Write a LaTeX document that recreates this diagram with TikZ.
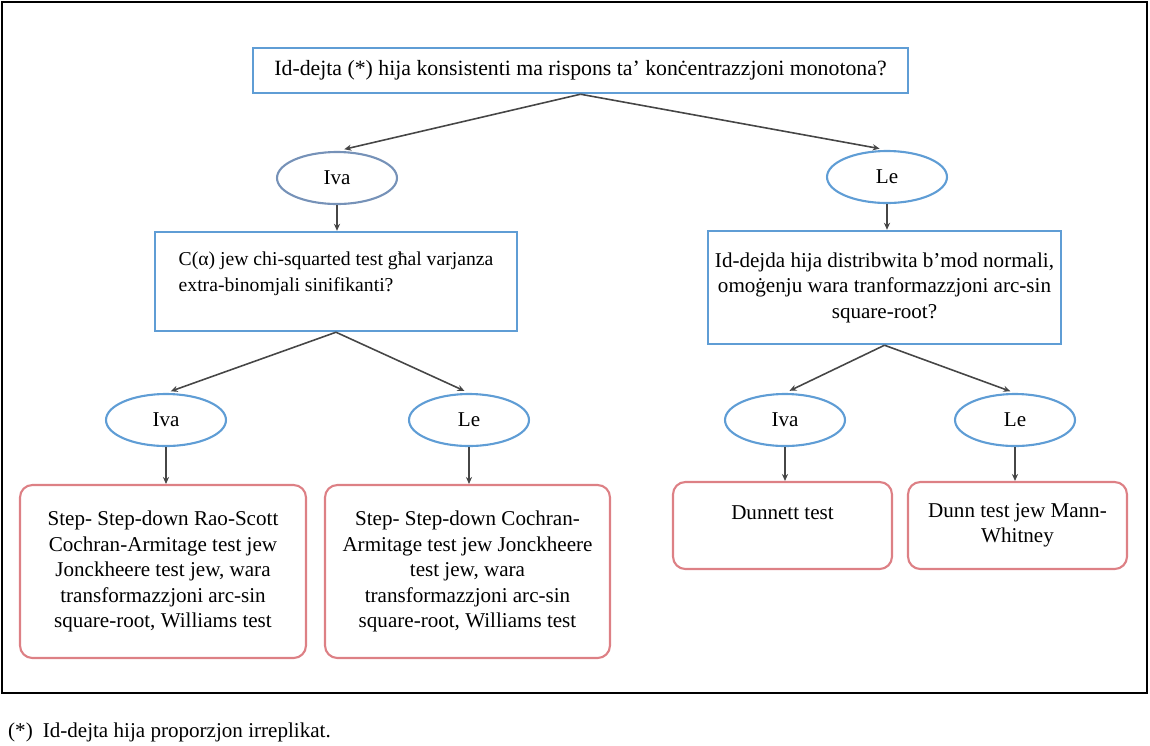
\documentclass[tikz,border=0pt]{standalone}
\usepackage{fontspec}
\setmainfont{Liberation Serif}
\usepackage{xcolor}
\usetikzlibrary{arrows.meta,shapes.geometric}

\definecolor{boxblue}{RGB}{95,157,213}
\definecolor{ovalgrey}{RGB}{118,146,184}
\definecolor{boxred}{RGB}{221,128,133}
\definecolor{arrgrey}{RGB}{70,70,70}

\begin{document}
\begin{tikzpicture}[
        x=0.02cm,
        y=-0.02cm,
        font=\fontsize{12pt}{14.5pt}\selectfont,
        qbox/.style={draw=boxblue, line width=1.4pt, inner sep=0pt, align=center},
        answer/.style={ellipse, draw=boxblue, line width=1.2pt, minimum width=2.4cm, minimum height=1.04cm, inner sep=0pt},
        testbox/.style={draw=boxred, line width=1.2pt, rounded corners=7pt, inner sep=0pt, align=center},
        arr/.style={-{Stealth[length=4pt,width=3.5pt]}, line width=0.9pt, arrgrey}
    ]
        \useasboundingbox (0,0) rectangle (1150,745);
        \draw[line width=1.3pt] (2,2) rectangle (1147,693);

        % questions
        \node[qbox, minimum width=13.1cm, minimum height=0.9cm, font=\fontsize{12.4pt}{14.5pt}\selectfont] (q0) at (580.5,70.5)
            {Id-dejta (*) hija konsistenti ma rispons ta’ konċentrazzjoni monotona?};
        \node[qbox, minimum width=7.24cm, align=left, font=\fontsize{11.2pt}{14.5pt}\selectfont,
            text height=1.18cm, text depth=0.8cm] (q1) at (336,281.5)
            {C(α) jew chi-squarted test għal varjanza\\extra-binomjali sinifikanti?};
        \node[qbox, minimum width=7.06cm, minimum height=2.26cm] (q2) at (884.5,287.5)
            {Id-dejda hija distribwita b’mod normali,\\omoġenju wara tranformazzjoni arc-sin\\square-root?};

        % answers
        \node[answer, draw=ovalgrey] (yes0) at (337,178) {Iva};
        \node[answer] (no0) at (887,177) {Le};
        \node[answer] (yes1) at (166,420) {Iva};
        \node[answer] (no1) at (469,420) {Le};
        \node[answer] (yes2) at (785,420) {Iva};
        \node[answer] (no2) at (1015,420) {Le};

        % tests
        \node[testbox, minimum width=5.72cm, minimum height=3.46cm] (t1) at (163,571.5)
            {Step- Step-down Rao-Scott\\Cochran-Armitage test jew\\Jonckheere test jew, wara\\transformazzjoni arc-sin\\square-root, Williams test};
        \node[testbox, minimum width=5.7cm, minimum height=3.46cm] (t2) at (467.5,571.5)
            {Step- Step-down Cochran-\\Armitage test jew Jonckheere\\test jew, wara\\transformazzjoni arc-sin\\square-root, Williams test};
        \node[testbox, minimum width=4.38cm, text height=0.74cm, text depth=1.0cm] (t3) at (782.5,525.5)
            {Dunnett test};
        \node[testbox, minimum width=4.38cm, minimum height=1.74cm] (t4) at (1017.5,525.5)
            {Dunn test jew Mann-\\Whitney};

        \draw[arr, shorten >=0.15cm] (q0.south) -- (yes0.north);
        \draw[arr, shorten >=0.15cm] (q0.south) -- (no0.north);
        \draw[arr] (yes0.south) -- (yes0.south |- q1.north);
        \draw[arr] (no0.south) -- (no0.south |- q2.north);

        \draw[arr, shorten >=0.1cm] (q1.south) -- (yes1.north);
        \draw[arr, shorten >=0.1cm] (q1.south) -- (no1.north);
        \draw[arr, shorten >=0.1cm] (q2.south) -- (yes2.north);
        \draw[arr, shorten >=0.1cm] (q2.south) -- (no2.north);

        \draw[arr] (yes1.south) -- (yes1.south |- t1.north);
        \draw[arr] (no1.south) -- (no1.south |- t2.north);
        \draw[arr] (yes2.south) -- (yes2.south |- t3.north);
        \draw[arr] (no2.south) -- (no2.south |- t4.north);

        \node[anchor=west] (note) at (2,732) {(*)\hspace{0.2cm}Id-dejta hija proporzjon irreplikat.};
    \end{tikzpicture}
\end{document}
